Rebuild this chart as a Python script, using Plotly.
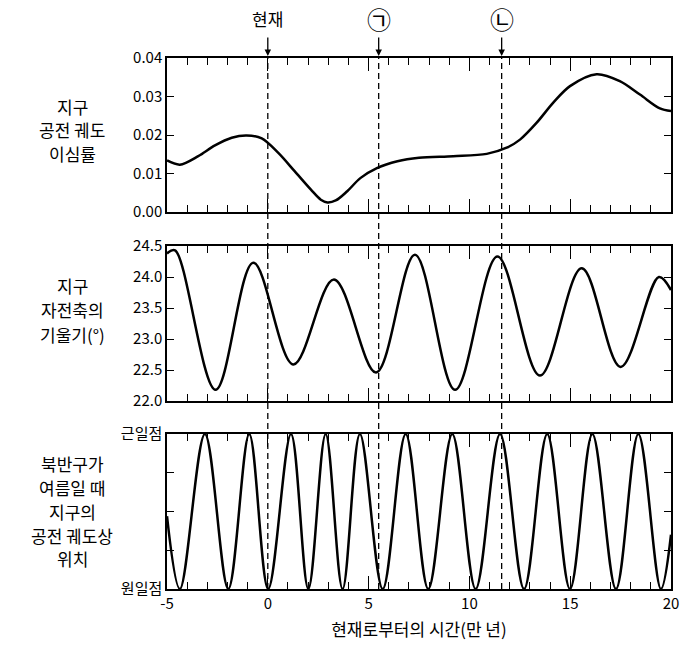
import plotly.graph_objects as go

# ---- data ----
ecc_x = [-5, -4.36, -3.45, -2.62, -1.79, -1.05, -0.30, 0.51, 1.33, 2.14, 2.63, 2.96, 3.37, 3.94, 4.59, 5.41,
         6.43, 7.5, 9.2, 10.86, 11.85, 12.51, 13.34, 14.16, 14.99, 16.31, 17.46, 18.46, 19.45, 20]
ecc_y = [0.0134, 0.0123, 0.0145, 0.0173, 0.0193, 0.0199, 0.0191, 0.0154, 0.0106, 0.0058, 0.0032, 0.0025,
         0.0030, 0.0054, 0.0088, 0.0114, 0.0132, 0.0141, 0.0145, 0.0151, 0.0167, 0.0188, 0.0232, 0.0284,
         0.0327, 0.0358, 0.0340, 0.0305, 0.0269, 0.0262]

obl_x = [-5, -4.6, -2.59, -0.72, 1.27, 3.28, 5.37, 7.30, 9.29, 11.39, 13.5, 15.57, 17.5, 19.4, 20]
obl_y = [24.38, 24.43, 22.18, 24.23, 22.59, 23.96, 22.46, 24.36, 22.18, 24.33, 22.41, 24.14, 22.55, 24.0, 23.79]

pre_x = [-5, -4.36, -3.12, -1.96, -0.92, 0.02, 1.15, 2.01, 2.87, 3.71, 4.57, 5.7, 6.84, 7.96, 9.15,
         10.31, 11.52, 12.71, 13.86, 14.99, 16.1, 17.27, 18.38, 19.5, 20]
pre_y = [0.47, 0, 1, 0, 1, 0, 1, 0, 1, 0, 1, 0, 1, 0, 1, 0, 1, 0, 1, 0, 1, 0, 1, 0, 0.35]

marker_x = [0, 5.5, 11.6]
marker_text = ["현재", "㉠", "㉡"]

x_ticks = [-5, 0, 5, 10, 15, 20]
x_ticktext = ["-5", "0", "5", "10", "15", "20"]
ecc_ticks = [0.00, 0.01, 0.02, 0.03, 0.04]
obl_ticks = [22.0, 22.5, 23.0, 23.5, 24.0, 24.5]
pre_tickvals = [0, 0.25, 0.5, 0.75, 1]
pre_ticktext = ["원일점", "", "", "", "근일점"]

label_lines = [
    ["지구", "공전 궤도", "이심률"],
    ["지구", "자전축의", "기울기(°)"],
    ["북반구가", "여름일 때", "지구의", "공전 궤도상", "위치"],
]
label_ypix = [
    [106, 129.5, 153],
    [285, 309.5, 334],
    [463, 487, 511, 535, 558],
]
x_title = "현재로부터의 시간(만 년)"

FONT = "Noto Sans CJK KR"

fig = go.Figure()
fig.add_trace(go.Scatter(x=ecc_x, y=ecc_y, mode="lines", line=dict(color="black", width=2.5, shape="spline", smoothing=0.9), xaxis="x", yaxis="y", showlegend=False))
fig.add_trace(go.Scatter(x=obl_x, y=obl_y, mode="lines", line=dict(color="black", width=2.5, shape="spline", smoothing=1.0), xaxis="x2", yaxis="y2", showlegend=False))
fig.add_trace(go.Scatter(x=pre_x, y=pre_y, mode="lines", line=dict(color="black", width=2.5, shape="spline", smoothing=1.0), xaxis="x3", yaxis="y3", showlegend=False))

common_x = dict(range=[-5, 20], showline=True, linecolor="black", linewidth=1.5, mirror="allticks",
                ticks="inside", ticklen=13, tickwidth=1.3, tickcolor="black", tickvals=x_ticks,
                ticktext=x_ticktext,
                minor=dict(dtick=1, ticks="inside", ticklen=7, tickwidth=1.3, tickcolor="black"),
                showgrid=False, zeroline=False, tickfont=dict(family=FONT, size=15, color="black"))
common_y = dict(showline=True, linecolor="black", linewidth=1.5, mirror="allticks", ticks="inside",
                ticklen=7, tickwidth=1.3, tickcolor="black", showgrid=False, zeroline=False,
                tickfont=dict(family=FONT, size=15, color="black"))

H = 531.0
d1 = [(589 - 212) / H, 1.0]
d2 = [(589 - 401) / H, (589 - 246) / H]
d3 = [0.0, (589 - 434) / H]

fig.update_layout(
    width=692, height=649, margin=dict(l=167, r=21, t=58, b=60, autoexpand=False),
    paper_bgcolor="white", plot_bgcolor="white",
    font=dict(family=FONT, color="black"),
    xaxis=dict(**common_x, anchor="y", showticklabels=False),
    xaxis2=dict(**common_x, anchor="y2", matches="x", showticklabels=False),
    xaxis3=dict(**common_x, anchor="y3", matches="x",
                title=dict(text=x_title, font=dict(family=FONT, size=17, color="black"), standoff=12)),
    yaxis=dict(**common_y, domain=d1, range=[0, 0.04], tickvals=ecc_ticks, tickformat=".2f"),
    yaxis2=dict(**common_y, domain=d2, range=[22.0, 24.5], tickvals=obl_ticks, tickformat=".1f"),
    yaxis3=dict(**common_y, domain=d3, range=[0, 1], tickvals=pre_tickvals, ticktext=pre_ticktext),
)

# dashed vertical lines through all panels
for mx in marker_x:
    fig.add_shape(type="line", xref="x", yref="paper", x0=mx, x1=mx, y0=0, y1=1,
                  line=dict(color="black", width=1.3, dash="6px,4px"), layer="above")

# arrows and labels at top
for mx, t in zip(marker_x, marker_text):
    fig.add_annotation(x=mx, y=1, xref="x", yref="paper", text="", showarrow=True,
                       arrowhead=2, arrowsize=1, arrowwidth=1.3, arrowcolor="black",
                       ax=0, ay=-22, standoff=2)
    fig.add_annotation(x=mx, y=(589 - 19) / H, xref="x", yref="paper", text=t, showarrow=False,
                       xanchor="center", yanchor="middle",
                       font=dict(family=FONT, size=17 if t == "현재" else 24, color="black"))

# left panel labels, one annotation per line
for lines, ys in zip(label_lines, label_ypix):
    for txt, yc in zip(lines, ys):
        fig.add_annotation(x=(72 - 167) / 504.0, y=(589 - yc) / H, xref="paper", yref="paper",
                           text=txt, showarrow=False, xanchor="center", yanchor="middle",
                           font=dict(family=FONT, size=17, color="black"))

fig.write_html("out.html", config={"displayModeBar": False},
               post_script="document.body.style.margin='0';document.body.style.padding='0';")
